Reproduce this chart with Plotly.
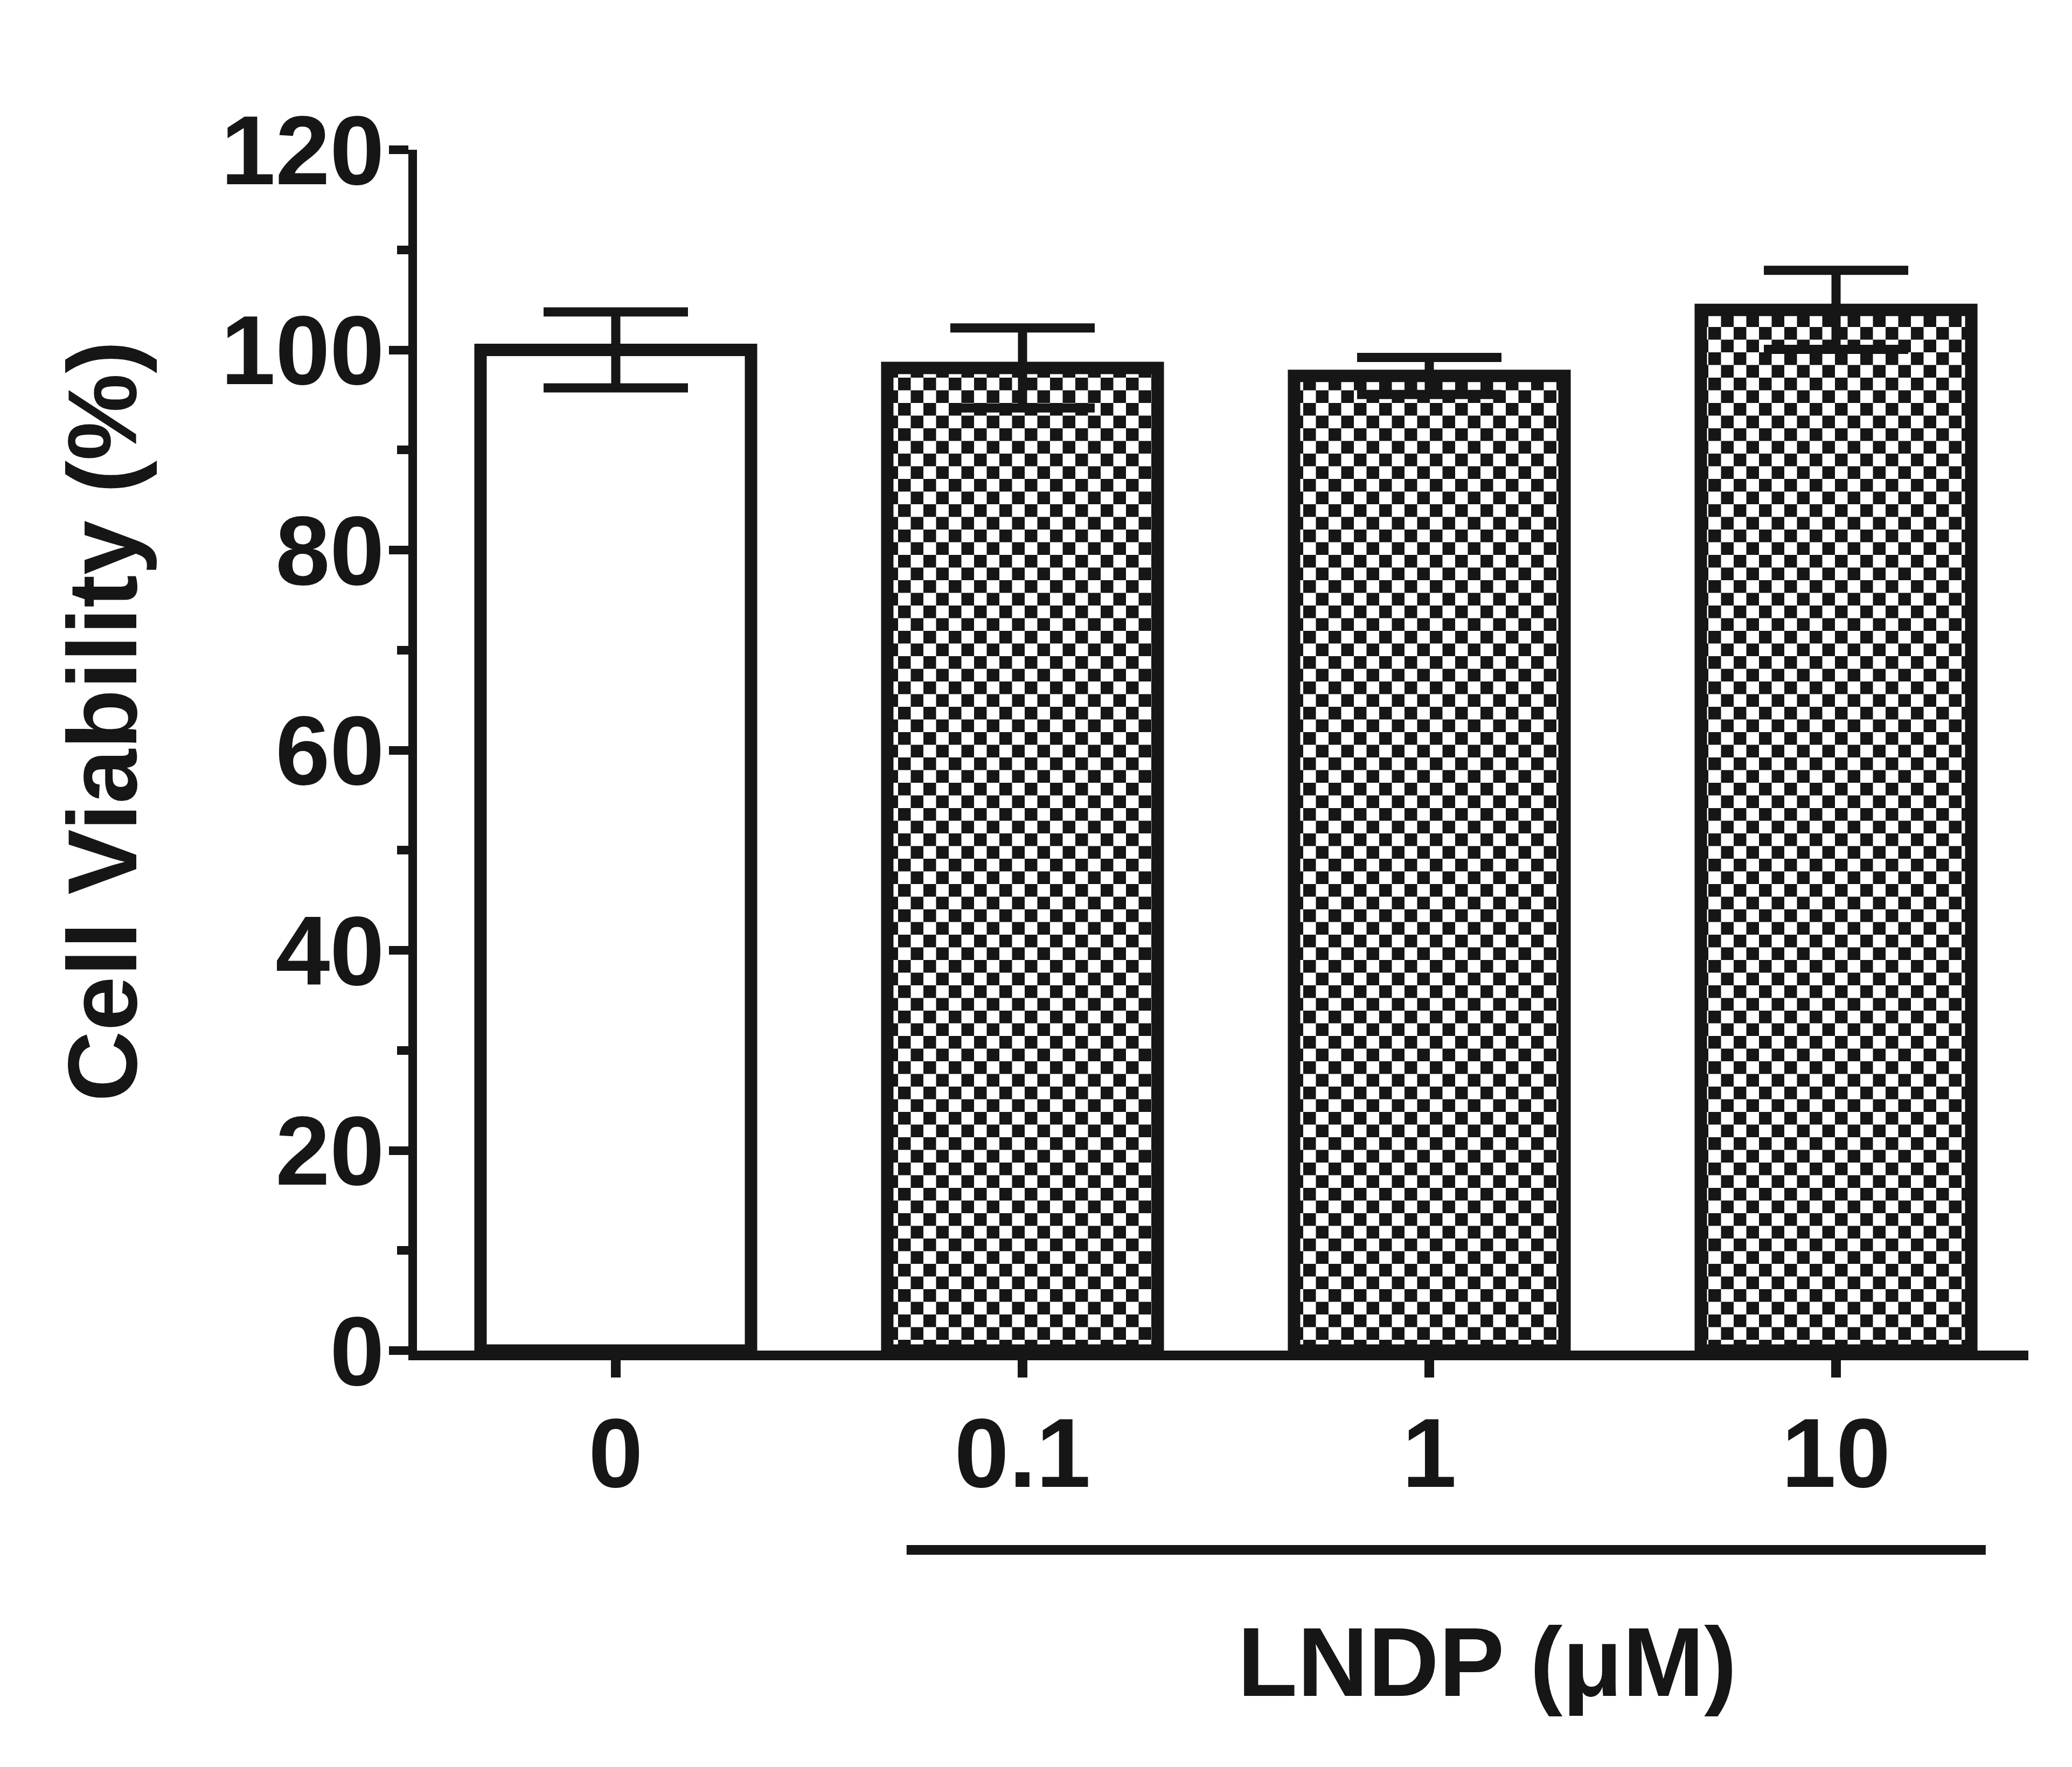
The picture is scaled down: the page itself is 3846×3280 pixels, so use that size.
import plotly.graph_objects as go

# ---------------- data ----------------
categories = ["0", "0.1", "1", "10"]          # LNDP concentration (uM)
viability = [100.0, 98.2, 97.4, 104.0]        # Cell viability (%)
sd = [3.8, 4.0, 1.85, 3.95]                   # error (+/-)
patterned = [False, True, True, True]         # checkered fill for LNDP-treated
y_ticks = [0, 20, 40, 60, 80, 100, 120]
y_title = "Cell Viability (%)"
x_title = "LNDP (\u03bcM)"

# ---------------- layout constants (pixels) ----------------
W, H = 3846, 3280
L, R, T, B = 774, 81, 278, 773
PW, PH = W - L - R, H - T - B
INK = "#161616"
FONT = "Liberation Sans, Arial, Helvetica, sans-serif"
FS = 182


def px_x(p):
    return (p - L) / PW


def px_y(p):
    return (H - B - p) / PH


xs = list(range(len(categories)))

fig = go.Figure()
fig.add_trace(go.Bar(
    x=xs,
    y=viability,
    width=0.665,
    marker=dict(
        color="white",
        line=dict(color=INK, width=23),
        pattern=dict(
            shape=["." if p else "" for p in patterned],
            fgcolor=INK,
            bgcolor="white",
            size=47,
            solidity=0.5,
            fillmode="replace",
        ),
    ),
    error_y=dict(type="data", array=sd, visible=True, color=INK,
                 thickness=17, width=134),
    hoverinfo="skip",
))

# treatment bracket line under 0.1 .. 10
fig.add_shape(type="line", xref="x", yref="paper",
              x0=0.715, x1=3.368, y0=px_y(2877), y1=px_y(2877),
              line=dict(color=INK, width=18))

fig.add_annotation(text=y_title, xref="paper", yref="paper",
                   x=px_x(190), y=px_y(1339), xanchor="center", yanchor="middle",
                   textangle=-90, showarrow=False,
                   font=dict(family=FONT, size=FS, color=INK, weight="bold"))
fig.add_annotation(text=x_title, xref="paper", yref="paper",
                   x=px_x(2760), y=px_y(3085), xanchor="center", yanchor="middle",
                   showarrow=False,
                   font=dict(family=FONT, size=FS, color=INK, weight="bold"))

fig.update_layout(
    width=W, height=H,
    margin=dict(l=L, r=R, t=T, b=B, pad=0),
    paper_bgcolor="white", plot_bgcolor="white",
    showlegend=False,
)
fig.update_xaxes(
    range=[-0.4887, 3.4728],
    tickmode="array", tickvals=xs, ticktext=categories,
    showline=True, linecolor=INK, linewidth=18,
    ticks="outside", ticklen=32, tickwidth=18, tickcolor=INK,
    ticklabelstandoff=-15,
    showgrid=False, zeroline=False,
    tickfont=dict(family=FONT, size=FS, color=INK, weight="bold"),
)
fig.update_yaxes(
    range=[0, 120],
    tickmode="array", tickvals=y_ticks,
    showline=True, linecolor=INK, linewidth=16,
    ticks="outside", ticklen=36, tickwidth=16, tickcolor=INK,
    ticklabelstandoff=-28,
    minor=dict(tickmode="linear", tick0=0, dtick=10, ticks="outside",
               ticklen=21, tickwidth=16, tickcolor=INK, showgrid=False),
    showgrid=False, zeroline=False,
    tickfont=dict(family=FONT, size=FS, color=INK, weight="bold"),
)

# turn Plotly's pattern tile into a checkerboard tile (texture only)
post_js = """
var gd = document.getElementById('{plot_id}');
var NS = 'http://www.w3.org/2000/svg';
function checker() {
  var pats = gd.querySelectorAll('pattern');
  for (var i = 0; i < pats.length; i++) {
    var p = pats[i];
    if (p.getAttribute('data-checker')) continue;
    var s = parseFloat(p.getAttribute('width'));
    var c = s / 2;
    while (p.firstChild) p.removeChild(p.firstChild);
    var specs = [[0, 0, s, s, '#ffffff'], [0, 0, c, c, '%s'], [c, c, c, c, '%s']];
    for (var k = 0; k < specs.length; k++) {
      var r = document.createElementNS(NS, 'rect');
      r.setAttribute('x', specs[k][0]);
      r.setAttribute('y', specs[k][1]);
      r.setAttribute('width', specs[k][2]);
      r.setAttribute('height', specs[k][3]);
      r.setAttribute('fill', specs[k][4]);
      p.appendChild(r);
    }
    p.setAttribute('data-checker', '1');
  }
}
checker();
gd.on('plotly_afterplot', checker);
""" % (INK, INK)

fig.write_html("out.html", post_script=post_js, config={"displayModeBar": False})
